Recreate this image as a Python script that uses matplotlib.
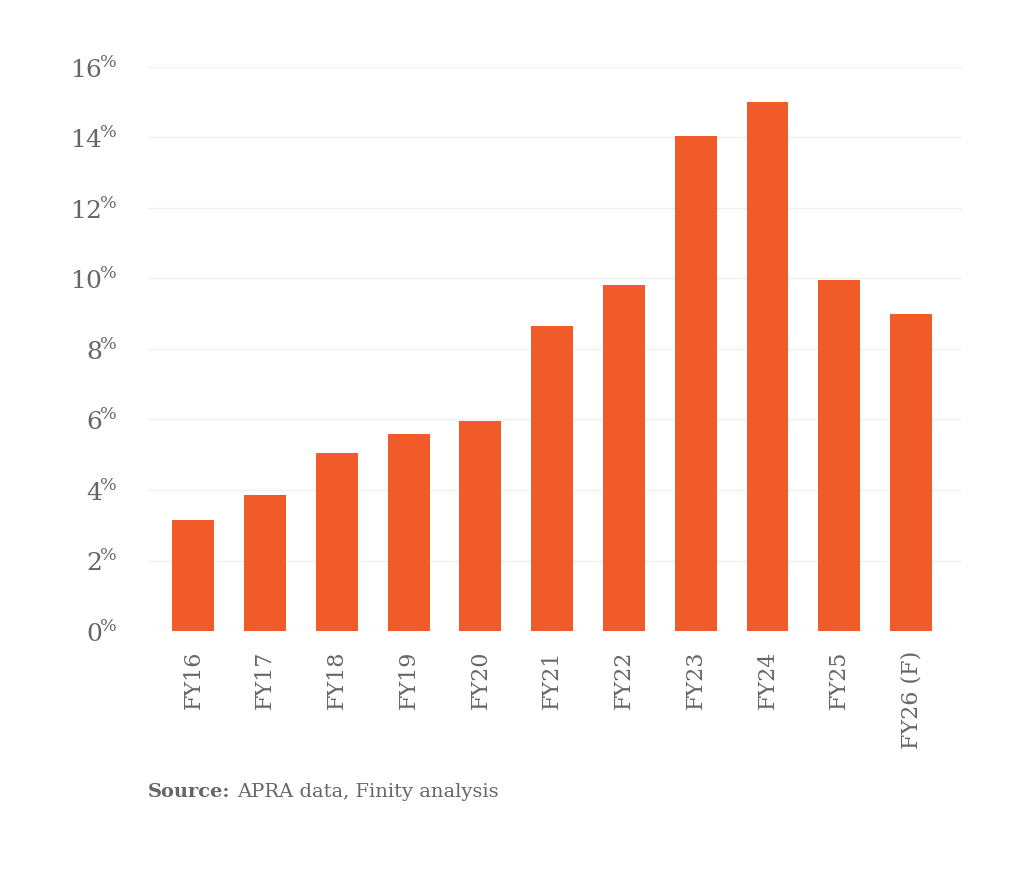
import matplotlib.pyplot as plt
from matplotlib.ticker import FuncFormatter

plt.rcParams['font.family'] = 'DejaVu Serif'
plt.rcParams['mathtext.fontset'] = 'custom'
plt.rcParams['mathtext.rm'] = 'DejaVu Serif'

# Data
years = ['FY16', 'FY17', 'FY18', 'FY19', 'FY20', 'FY21', 'FY22',
         'FY23', 'FY24', 'FY25', 'FY26 (F)']
values = [3.15, 3.86, 5.05, 5.59, 5.96, 8.65, 9.82, 14.04, 15.0, 9.96, 8.99]
y_ticks = [0, 2, 4, 6, 8, 10, 12, 14, 16]

text_col = '#666666'
bar_col = '#F15A29'

fig = plt.figure(figsize=(10.24, 8.86), dpi=100)
ax = fig.add_axes([0.1445, 0.2878, 0.7949, 0.6366])

x = range(len(years))
ax.bar(x, values, width=0.585, color=bar_col, zorder=3)

ax.set_ylim(0, 16)
ax.set_xlim(-0.634, 10.71)
ax.set_yticks(y_ticks)
ax.yaxis.set_major_formatter(FuncFormatter(lambda v, p: '$\\mathrm{%d}^{\\!\\%%}$' % v))
ax.set_xticks(list(x))
ax.set_xticklabels(years, rotation=90)

ax.grid(axis='y', color='#f0f0f0', linewidth=1, zorder=0)
for s in ax.spines.values():
    s.set_visible(False)
ax.tick_params(axis='both', length=0, colors=text_col)
ax.tick_params(axis='y', pad=22, labelsize=18)
ax.tick_params(axis='x', pad=14, labelsize=16)

src = fig.text(0.1445, 0.101, 'Source:', fontsize=14, fontweight='bold', color=text_col)
ax.annotate('APRA data, Finity analysis', xy=(1, 0), xycoords=src,
            xytext=(5, 0), textcoords='offset points',
            fontsize=14, color=text_col, va='bottom')

fig.savefig('out.png', dpi=100, facecolor='white')
